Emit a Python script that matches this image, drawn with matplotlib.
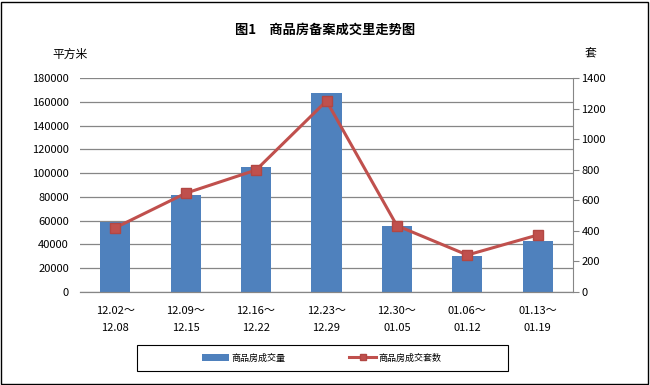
import matplotlib.pyplot as plt
from matplotlib.patches import Rectangle

plt.rcParams['font.family'] = ['Noto Sans CJK SC', 'DejaVu Sans']

# weekly periods
weeks = ['12.02～\n12.08', '12.09～\n12.15', '12.16～\n12.22', '12.23～\n12.29',
         '12.30～\n01.05', '01.06～\n01.12', '01.13～\n01.19']
area = [59000, 81600, 105400, 167600, 55800, 30300, 42900]   # 平方米
units = [420, 646, 798, 1250, 434, 242, 373]                   # 套

bar_color = '#4F81BD'
line_color = '#C0504D'
grid_color = '#868686'

fig = plt.figure(figsize=(6.5, 3.85), dpi=100)
W, H = 650, 385
ax = fig.add_axes([80 / W, 1 - 292 / H, (573 - 80) / W, (292 - 78) / H])
ax2 = ax.twinx()

x = list(range(len(weeks)))
bars = ax.bar(x, area, width=0.43, color=bar_color, zorder=2)
line, = ax2.plot(x, units, color=line_color, lw=2.2, marker='s', ms=7,
                 markerfacecolor=line_color, markeredgecolor='#B24743', zorder=3)

ax.set_xlim(-0.5, len(weeks) - 0.5)
ax.set_ylim(0, 180000)
ax.set_yticks(range(0, 180001, 20000))
ax2.set_ylim(0, 1400)
ax2.set_yticks(range(0, 1401, 200))

ax.set_xticks(x)
ax.set_xticklabels(weeks, fontsize=8, linespacing=1.9)
ax.tick_params(axis='x', length=0, pad=10)
ax.tick_params(axis='y', length=0, labelsize=8, pad=8)
ax2.tick_params(axis='y', length=4, color=grid_color, labelsize=8, pad=2)

ax.grid(axis='y', color=grid_color, lw=0.9, zorder=0)
ax.set_axisbelow(True)
for a in (ax, ax2):
    for s in ('top', 'left'):
        a.spines[s].set_visible(False)
    a.spines['bottom'].set_color(grid_color)
    a.spines['right'].set_visible(False)
ax2.spines['right'].set_visible(True)
ax2.spines['right'].set_color(grid_color)

fig.text(0.5, 1 - 30 / H, '图1　商品房备案成交里走势图', ha='center', va='center',
         fontsize=9.5, fontweight='bold')
fig.text(70 / W, 1 - 54 / H, '平方米', ha='center', va='center', fontsize=8.5)
fig.text(590 / W, 1 - 54 / H, '套', ha='center', va='center', fontsize=8.5)

# legend box
fig.patches.append(Rectangle((137 / W, 1 - 371 / H), (508 - 137) / W, 26 / H,
                             transform=fig.transFigure, fill=False, ec='black', lw=0.8))
fig.legend([bars, line], ['商品房成交量', '商品房成交套数'], loc='center',
           bbox_to_anchor=(322 / W, 1 - 358 / H), ncol=2, frameon=False,
           fontsize=6.5, handlelength=3, columnspacing=7, handletextpad=0.3,
           markerscale=0.7)

# outer border
fig.patches.append(Rectangle((1 / W, 1 / H), (W - 3) / W, (H - 3) / H,
                             transform=fig.transFigure, fill=False, ec='black', lw=1))

fig.savefig('out.png', dpi=100)
